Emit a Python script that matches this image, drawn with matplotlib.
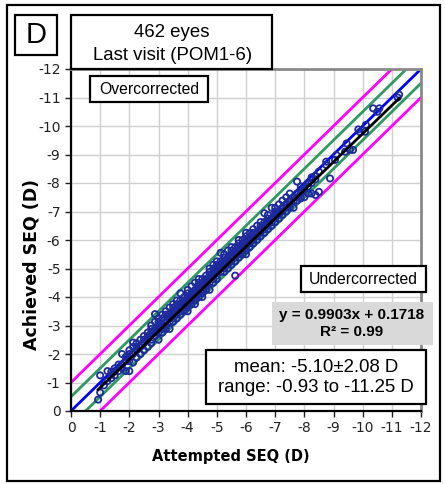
import matplotlib
matplotlib.use('Agg')
import matplotlib.pyplot as plt
from matplotlib.patches import Rectangle
import numpy as np

# attempted SEQ (D), grouped by row; achieved values follow the same layout
attempted = [
    -0.93, -1.00, -1.00, -1.13, -1.25, -1.25, -1.38, -1.38,
    -1.50, -1.50, -1.50, -1.63, -1.63, -1.75, -1.75, -1.75,
    -1.88, -1.88, -1.88, -2.00, -2.00, -2.00, -2.00,
    -2.13, -2.13, -2.13, -2.13, -2.25, -2.25, -2.25, -2.25,
    -2.38, -2.38, -2.38, -2.50, -2.50, -2.50, -2.50,
    -2.63, -2.63, -2.63, -2.63, -2.75, -2.75, -2.75, -2.75, -2.75,
    -2.88, -2.88, -2.88, -2.88, -2.88,
    -3.00, -3.00, -3.00, -3.00, -3.00, -3.00,
    -3.13, -3.13, -3.13, -3.13, -3.13,
    -3.25, -3.25, -3.25, -3.25, -3.25,
    -3.38, -3.38, -3.38, -3.38, -3.38,
    -3.50, -3.50, -3.50, -3.50, -3.50, -3.50,
    -3.63, -3.63, -3.63, -3.63, -3.63,
    -3.75, -3.75, -3.75, -3.75, -3.75, -3.75,
    -3.88, -3.88, -3.88, -3.88, -3.88,
    -4.00, -4.00, -4.00, -4.00, -4.00, -4.00, -4.00,
    -4.13, -4.13, -4.13, -4.13, -4.13,
    -4.25, -4.25, -4.25, -4.25, -4.25, -4.25,
    -4.38, -4.38, -4.38, -4.38, -4.38, -4.38,
    -4.50, -4.50, -4.50, -4.50, -4.50, -4.50,
    -4.63, -4.63, -4.63, -4.63, -4.63,
    -4.75, -4.75, -4.75, -4.75, -4.75, -4.75,
    -4.88, -4.88, -4.88, -4.88, -4.88, -4.88,
    -5.00, -5.00, -5.00, -5.00, -5.00, -5.00,
    -5.13, -5.13, -5.13, -5.13, -5.13,
    -5.25, -5.25, -5.25, -5.25, -5.25, -5.25,
    -5.38, -5.38, -5.38, -5.38, -5.38,
    -5.50, -5.50, -5.50, -5.50, -5.50, -5.50,
    -5.63, -5.63, -5.63, -5.63, -5.63,
    -5.75, -5.75, -5.75, -5.75, -5.75, -5.75,
    -5.88, -5.88, -5.88, -5.88, -5.88,
    -6.00, -6.00, -6.00, -6.00, -6.00, -6.00, -6.00,
    -6.13, -6.13, -6.13, -6.13,
    -6.25, -6.25, -6.25, -6.25, -6.25,
    -6.38, -6.38, -6.38, -6.38,
    -6.50, -6.50, -6.50, -6.50, -6.50,
    -6.63, -6.63, -6.63, -6.63, -6.63,
    -6.75, -6.75, -6.75, -6.75, -6.75,
    -6.88, -6.88, -6.88, -6.88,
    -7.00, -7.00, -7.00, -7.00, -7.00,
    -7.13, -7.13, -7.13, -7.13,
    -7.25, -7.25, -7.25, -7.25,
    -7.38, -7.38, -7.38, -7.38,
    -7.50, -7.50, -7.50, -7.50,
    -7.63, -7.63, -7.63,
    -7.75, -7.75, -7.75, -7.75,
    -7.88, -7.88, -7.88,
    -8.00, -8.00, -8.00,
    -8.13, -8.13, -8.13,
    -8.25, -8.25, -8.25,
    -8.38, -8.38, -8.38,
    -8.50, -8.50,
    -8.75, -8.75, -8.88,
    -9.05, -9.10,
    -9.40, -9.45, -9.56, -9.67,
    -9.85, -9.90, -10.08, -10.11,
    -10.36, -10.50, -10.57,
    -11.20, -11.25,
]
achieved = [
    -0.40, -0.65, -1.25, -0.90, -1.05, -1.40, -1.15, -1.38,
    -1.25, -1.50, -1.38, -1.40, -1.63, -2.00, -1.50, -1.63,
    -1.40, -1.75, -1.90, -1.40, -2.00, -1.75, -2.13,
    -2.40, -1.70, -2.00, -2.25, -1.88, -2.13, -2.25, -2.38,
    -2.00, -2.25, -2.50, -2.13, -2.38, -2.50, -2.63,
    -2.25, -2.50, -2.63, -2.75, -2.38, -2.50, -2.75, -2.88, -3.00,
    -3.40, -2.63, -2.75, -2.88, -3.13,
    -2.50, -2.75, -2.88, -3.00, -3.13, -3.25,
    -2.75, -2.88, -3.00, -3.25, -3.38,
    -2.88, -3.00, -3.13, -3.38, -3.50,
    -2.88, -3.13, -3.25, -3.38, -3.63,
    -3.13, -3.25, -3.38, -3.50, -3.63, -3.75,
    -3.25, -3.38, -3.50, -3.75, -3.88,
    -3.38, -3.50, -3.63, -3.75, -3.88, -4.13,
    -3.50, -3.63, -3.75, -3.88, -4.00,
    -3.50, -3.63, -3.75, -3.88, -4.00, -4.13, -4.25,
    -3.75, -3.88, -4.00, -4.13, -4.38,
    -3.75, -3.88, -4.00, -4.13, -4.25, -4.50,
    -4.00, -4.13, -4.25, -4.38, -4.50, -4.63,
    -4.00, -4.13, -4.25, -4.38, -4.50, -4.63,
    -4.25, -4.38, -4.50, -4.63, -4.75,
    -4.25, -4.50, -4.63, -4.75, -4.88, -5.00,
    -4.50, -4.63, -4.75, -4.88, -5.00, -5.13,
    -4.63, -4.75, -4.88, -5.00, -5.13, -5.25,
    -5.55, -4.88, -5.00, -5.13, -5.25,
    -4.88, -5.00, -5.13, -5.25, -5.38, -5.50,
    -5.00, -5.13, -5.25, -5.38, -5.63,
    -5.13, -5.25, -5.38, -5.50, -5.63, -5.75,
    -4.75, -5.25, -5.38, -5.50, -5.75,
    -5.38, -5.50, -5.63, -5.75, -5.88, -6.00,
    -5.50, -5.63, -5.75, -5.88, -6.00,
    -5.50, -5.63, -5.75, -5.88, -6.00, -6.13, -6.25,
    -5.75, -5.88, -6.00, -6.25,
    -5.88, -6.00, -6.13, -6.25, -6.38,
    -6.00, -6.13, -6.25, -6.50,
    -6.13, -6.25, -6.38, -6.50, -6.63,
    -6.25, -6.38, -6.50, -6.63, -6.94,
    -6.38, -6.50, -6.63, -6.75, -6.88,
    -6.50, -6.63, -6.75, -7.13,
    -6.63, -6.75, -6.88, -7.00, -7.13,
    -6.75, -6.88, -7.00, -7.25,
    -6.88, -7.00, -7.13, -7.38,
    -7.00, -7.13, -7.25, -7.50,
    -7.13, -7.25, -7.38, -7.63,
    -7.13, -7.38, -7.50,
    -7.38, -7.50, -7.63, -8.05,
    -7.46, -7.63, -7.88,
    -7.50, -7.75, -7.88,
    -7.63, -7.88, -8.00,
    -7.63, -8.00, -8.20,
    -7.58, -8.13, -8.25,
    -7.69, -8.40,
    -8.75, -8.63, -8.16,
    -8.81, -8.98,
    -9.10, -9.39, -9.16, -9.16,
    -9.88, -9.79, -9.80, -10.04,
    -10.62, -10.50, -10.62,
    -11.00, -11.10,
]

slope = 0.9903
intercept = 0.1718
fit_range = [-0.93, -11.25]
bands = [0.5, 1.0]
ticks = list(range(0, -13, -1))

W, H = 445, 484
fig = plt.figure(figsize=(W / 100, H / 100), dpi=100)

def fx(px):
    return px / W

def fy(py):
    return 1 - py / H

ax = fig.add_axes([fx(71), fy(411), fx(421) - fx(71), fy(69) - fy(411)])

lim = np.array([1.0, -13.0])
ax.plot(lim, lim + bands[1], color='#ff00ff', lw=2)
ax.plot(lim, lim - bands[1], color='#ff00ff', lw=2)
ax.plot(lim, lim + bands[0], color='#2e9960', lw=2)
ax.plot(lim, lim - bands[0], color='#2e9960', lw=2)
ax.plot(lim, lim, color='#0000ff', lw=2)
ax.scatter(attempted, achieved, s=20, facecolors='none', edgecolors='#1c2a9c',
           linewidths=1.3, zorder=3)
fx_line = np.array(fit_range)
ax.plot(fx_line, slope * fx_line + intercept, color='black', lw=2, zorder=4)

ax.set_xlim(0, -12)
ax.set_ylim(0, -12)
ax.set_xticks(ticks)
ax.set_yticks(ticks)
ax.set_xticklabels([str(t) for t in ticks])
ax.set_yticklabels([str(t) for t in ticks])
ax.tick_params(labelsize=10, length=4, width=1, direction='out', colors='#222222')
ax.grid(True, color='#d0d0d0', lw=1)
ax.set_axisbelow(True)
for s in ['left', 'bottom']:
    ax.spines[s].set_color('black')
    ax.spines[s].set_linewidth(1.6)
for s in ['top', 'right']:
    ax.spines[s].set_color('#8a8a8a')
    ax.spines[s].set_linewidth(2)

fig.text(fx(231), fy(457), 'Attempted SEQ (D)', fontsize=10.5, fontweight='bold',
         ha='center', va='center')
fig.text(fx(32), fy(264), 'Achieved SEQ (D)', fontsize=12.5, fontweight='bold',
         ha='center', va='center', rotation=90)

def box(x0, y0, x1, y1, fc='white', ec='black', lw=1.6):
    fig.patches.append(Rectangle((fx(x0), fy(y1)), fx(x1) - fx(x0), fy(y0) - fy(y1),
                                 transform=fig.transFigure, facecolor=fc,
                                 edgecolor=ec, linewidth=lw, zorder=5))

# outer frame
box(7, 5, 440, 481, fc='none', lw=1.6)

box(15, 15, 57, 55)
fig.text(fx(36), fy(35), 'D', fontsize=21, family='Liberation Sans',
         ha='center', va='center', zorder=6)

box(71, 15, 272, 69)
fig.text(fx(172), fy(33), '462 eyes', fontsize=13.4, family='Liberation Sans',
         ha='center', va='center', zorder=6)
fig.text(fx(173), fy(55), 'Last visit (POM1-6)', fontsize=13.4, family='Liberation Sans',
         ha='center', va='center', zorder=6)

box(90, 76, 208, 102)
fig.text(fx(149), fy(89), 'Overcorrected', fontsize=11.3, family='Liberation Sans',
         ha='center', va='center', zorder=6)

box(301, 266, 426, 292)
fig.text(fx(363), fy(279), 'Undercorrected', fontsize=11.3, family='Liberation Sans',
         ha='center', va='center', zorder=6)

box(272, 302, 433, 345, fc='#d9d9d9', ec='none', lw=0)
fig.text(fx(352), fy(315), f'y = {slope:.4f}x + {intercept:.4f}', fontsize=11,
         fontweight='bold', family='Liberation Sans', ha='center', va='center', zorder=6)
fig.text(fx(352), fy(332), 'R² = 0.99', fontsize=11, fontweight='bold',
         family='Liberation Sans', ha='center', va='center', zorder=6)

box(206, 350, 426, 404)
fig.text(fx(316), fy(368), 'mean: -5.10±2.08 D', fontsize=13.4, family='Liberation Sans',
         ha='center', va='center', zorder=6)
fig.text(fx(316), fy(387), 'range: -0.93 to -11.25 D', fontsize=13.4,
         family='Liberation Sans', ha='center', va='center', zorder=6)

plt.savefig('out.png', dpi=100)
